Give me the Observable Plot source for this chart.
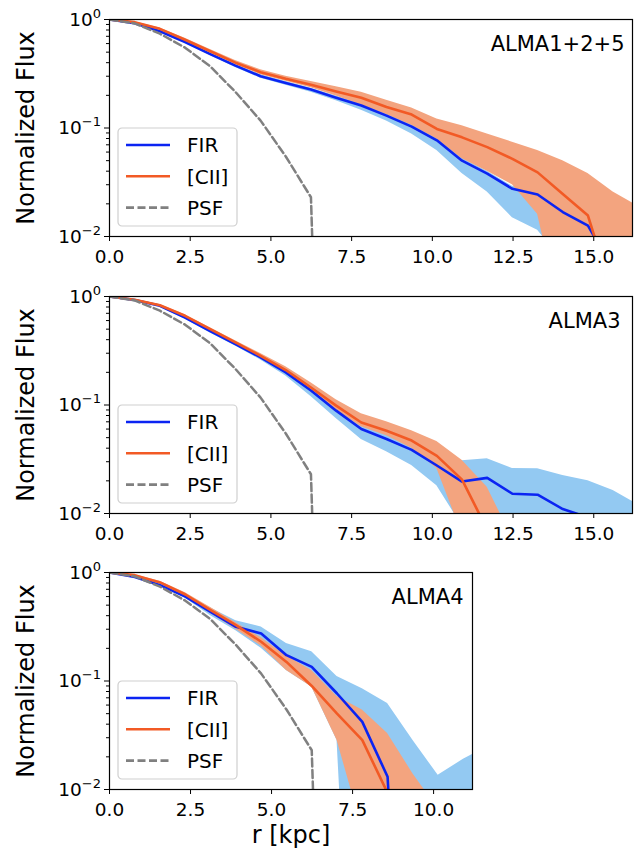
<!DOCTYPE html>
<html><head><meta charset="utf-8">
<script src="https://cdn.jsdelivr.net/npm/d3@7"></script>
<script src="https://cdn.jsdelivr.net/npm/@observablehq/plot@0.6"></script>
<style>
body{margin:0;background:#fff;}
#fig{position:relative;width:639px;height:853px;font-family:"DejaVu Sans",sans-serif;}
#fig svg{position:absolute;left:0;overflow:visible;}
</style></head><body><div id="fig"></div>
<script>
// radial bins (kpc)
const radius = [0, 0.78, 1.56, 2.34, 3.12, 3.9, 4.68, 5.46, 6.24, 7.02, 7.8, 8.58, 9.36, 10.14, 10.92, 11.7, 12.48, 13.26, 14.04, 14.82, 15.6, 16.38];

// PSF profile (same in all panels)
const psf = [1.0, 0.92, 0.74, 0.55, 0.37, 0.215, 0.117, 0.0546, 0.023, 1e-9];

// ALMA1+2+5
const fir1   = [1.0, 0.925, 0.78, 0.62, 0.48, 0.376, 0.30, 0.26, 0.226, 0.19, 0.161, 0.130, 0.103, 0.077, 0.050, 0.038, 0.0275, 0.0244, 0.0168, 0.0126, 0.005, 0.002];
const fir1Lo = [1.0, 0.91, 0.765, 0.605, 0.465, 0.362, 0.288, 0.248, 0.214, 0.178, 0.146, 0.116, 0.088, 0.062, 0.038, 0.0257, 0.0149, 0.0114, 0.006, 0.003, 0.002, 0.001];
const fir1Hi = [1.0, 0.935, 0.79, 0.63, 0.49, 0.385, 0.31, 0.268, 0.233, 0.197, 0.167, 0.135, 0.108, 0.081, 0.053, 0.040, 0.029, 0.026, 0.018, 0.0135, 0.006, 0.003];
const cii1   = [1.0, 0.945, 0.82, 0.65, 0.51, 0.40, 0.327, 0.284, 0.25, 0.217, 0.19, 0.156, 0.133, 0.098, 0.082, 0.0666, 0.052, 0.039, 0.0247, 0.0156, 0.0028, 0.001];
const cii1Lo = [1.0, 0.935, 0.805, 0.635, 0.495, 0.385, 0.31, 0.27, 0.235, 0.197, 0.163, 0.133, 0.106, 0.079, 0.052, 0.040, 0.030, 0.016, 0.0016, 0.001, 0.001, 0.001];
const cii1Hi = [1.0, 0.955, 0.835, 0.67, 0.53, 0.42, 0.345, 0.30, 0.268, 0.24, 0.214, 0.18, 0.153, 0.121, 0.105, 0.088, 0.074, 0.062, 0.050, 0.038, 0.0257, 0.019];

// ALMA3
const fir2   = [1.0, 0.93, 0.82, 0.64, 0.48, 0.364, 0.275, 0.20, 0.136, 0.0887, 0.060, 0.0486, 0.0386, 0.0277, 0.0197, 0.0213, 0.0152, 0.0149, 0.011, 0.0092, 0.007, 0.005];
const fir2Lo = [1.0, 0.92, 0.80, 0.62, 0.46, 0.35, 0.26, 0.185, 0.12, 0.075, 0.048, 0.037, 0.0277, 0.018, 0.0077, 0.001, 0.001, 0.001, 0.001, 0.001, 0.001, 0.001];
const fir2Hi = [1.0, 0.94, 0.835, 0.655, 0.495, 0.378, 0.288, 0.212, 0.148, 0.097, 0.066, 0.053, 0.043, 0.034, 0.0307, 0.032, 0.026, 0.0258, 0.0224, 0.020, 0.0163, 0.012];
const cii2   = [1.0, 0.935, 0.83, 0.664, 0.50, 0.377, 0.284, 0.21, 0.145, 0.0986, 0.069, 0.058, 0.047, 0.034, 0.0205, 0.0071, 0.002, 0.001, 0.001, 0.001, 0.001, 0.001];
const cii2Lo = [1.0, 0.925, 0.815, 0.648, 0.485, 0.364, 0.272, 0.198, 0.135, 0.090, 0.063, 0.052, 0.040, 0.026, 0.0065, 0.001, 0.001, 0.001, 0.001, 0.001, 0.001, 0.001];
const cii2Hi = [1.0, 0.945, 0.845, 0.68, 0.515, 0.392, 0.298, 0.225, 0.16, 0.112, 0.083, 0.07, 0.058, 0.046, 0.031, 0.0175, 0.0059, 0.002, 0.001, 0.001, 0.001, 0.001];

// ALMA4
const fir3   = [1.0, 0.91, 0.764, 0.60, 0.434, 0.316, 0.274, 0.173, 0.135, 0.0767, 0.042, 0.0131, 1e-6, 1e-6, 1e-6, 1e-6];
const fir3Lo = [1.0, 0.90, 0.75, 0.58, 0.40, 0.29, 0.20, 0.125, 0.088, 0.0285, 1e-6, 1e-6, 1e-6, 1e-6, 1e-6, 1e-6];
const fir3Hi = [1.0, 0.93, 0.80, 0.63, 0.47, 0.36, 0.315, 0.222, 0.186, 0.11, 0.085, 0.062, 0.0285, 0.0135, 0.019, 0.025];
const cii3   = [1.0, 0.945, 0.81, 0.627, 0.45, 0.327, 0.23, 0.15, 0.09, 0.05, 0.0285, 0.0093, 0.001, 0.001, 0.001, 0.001];
const cii3Lo = [1.0, 0.935, 0.79, 0.60, 0.42, 0.30, 0.21, 0.125, 0.088, 0.0285, 0.0043, 0.001, 0.001, 0.001, 0.001, 0.001];
const cii3Hi = [1.0, 0.955, 0.83, 0.65, 0.475, 0.345, 0.25, 0.17, 0.125, 0.072, 0.054, 0.0328, 0.014, 0.0066, 0.001, 0.001];

// axes
const xTicksWide = [0, 2.5, 5, 7.5, 10, 12.5, 15];
const xTicksNarrow = [0, 2.5, 5, 7.5, 10];
const yTicks = [1, 0.1, 0.01];
const yTickBase = ["10", "10", "10"];
const yTickExp = ["0", "\u22121", "\u22122"];
const yMinor = [0.02,0.03,0.04,0.05,0.06,0.07,0.08,0.09,0.2,0.3,0.4,0.5,0.6,0.7,0.8,0.9];
const seriesNames = ["FIR", "[CII]", "PSF"];
const panelNames = ["ALMA1+2+5", "ALMA3", "ALMA4"];

const blueLine = "#0b24f2", orangeLine = "#f25a25", psfColor = "#808080";
const blueBand = "#93c9f2", orangeBand = "#f3a47f";

const panels = [
  {name: panelNames[0], fir: fir1, firLo: fir1Lo, firHi: fir1Hi, cii: cii1, ciiLo: cii1Lo, ciiHi: cii1Hi, xMax: 16.2, xTicks: xTicksWide, top: 0, width: 639, labelDx: -8, xLabel: false},
  {name: panelNames[1], fir: fir2, firLo: fir2Lo, firHi: fir2Hi, cii: cii2, ciiLo: cii2Lo, ciiHi: cii2Hi, xMax: 16.2, xTicks: xTicksWide, top: 277, width: 639, labelDx: -12, xLabel: false},
  {name: panelNames[2], fir: fir3, firLo: fir3Lo, firHi: fir3Hi, cii: cii3, ciiLo: cii3Lo, ciiHi: cii3Hi, xMax: 11.2, xTicks: xTicksNarrow, top: 553, width: 479, labelDx: -9, xLabel: true}
];

const fig = document.getElementById("fig");
const ML = 109, MT = 19, PH = 217;
const FONT = "'DejaVu Sans', sans-serif";

panels.forEach(p => {
  const rows = p.fir.map((v, i) => ({r: radius[i], fir: v, firLo: p.firLo[i], firHi: p.firHi[i], cii: p.cii[i], ciiLo: p.ciiLo[i], ciiHi: p.ciiHi[i]}));
  const psfRows = psf.map((v, i) => ({r: radius[i], v}));
  const mb = p.xLabel ? 64 : 36;
  const marks = [
    Plot.areaY(rows, {x: "r", y1: "firLo", y2: "firHi", fill: blueBand, clip: true}),
    Plot.areaY(rows, {x: "r", y1: "ciiLo", y2: "ciiHi", fill: orangeBand, clip: true}),
    Plot.lineY(rows, {x: "r", y: "fir", stroke: blueLine, strokeWidth: 2.6, clip: true}),
    Plot.lineY(rows, {x: "r", y: "cii", stroke: orangeLine, strokeWidth: 2.6, clip: true}),
    Plot.lineY(psfRows, {x: "r", y: "v", stroke: psfColor, strokeWidth: 2.5, strokeDasharray: "8,3.5", clip: true}),
    Plot.axisX({ticks: p.xTicks, tickFormat: d3.format(".1f"), tickSize: 5, tickPadding: 8, label: null, fontSize: 18.5}),
    Plot.axisY({ticks: yTicks, tickFormat: () => "", tickSize: 5, label: null}),
    Plot.axisY(yMinor, {tickSize: 3, tickFormat: () => "", label: null}),
    Plot.frame({stroke: "black", strokeWidth: 1.2}),
    Plot.text([p.name], {frameAnchor: "top-right", textAnchor: "end", lineAnchor: "bottom", dx: p.labelDx, dy: 31, fontSize: 21, fill: "black"}),
    Plot.text(["Normalized Flux"], {frameAnchor: "left", rotate: -90, textAnchor: "middle", lineAnchor: "bottom", dx: -76, fontSize: 24, fill: "black"})
  ];
  if (p.xLabel) marks.push(Plot.text(["r [kpc]"], {frameAnchor: "bottom", textAnchor: "middle", lineAnchor: "bottom", dy: 53, fontSize: 24, fill: "black"}));
  const svg = Plot.plot({
    width: p.width, height: MT + PH + mb,
    marginLeft: ML, marginRight: 7, marginTop: MT, marginBottom: mb,
    style: {fontFamily: FONT, fontSize: "18.5px", color: "black", background: "transparent", overflow: "visible"},
    x: {domain: [0, p.xMax]},
    y: {type: "log", domain: [0.01, 1]},
    marks
  });
  svg.style.top = p.top + "px";
  const root = d3.select(svg);
  // y tick labels with superscript exponents, placed with Plot's own y scale
  const ys = svg.scale("y");
  yTicks.forEach((v, i) => {
    const t = root.append("text").attr("x", ML - 8).attr("y", ys.apply(v)).attr("dy", "0.36em")
      .attr("text-anchor", "end").attr("font-size", 18.5).attr("font-family", FONT).attr("fill", "black");
    t.append("tspan").text(yTickBase[i]);
    t.append("tspan").attr("font-size", 13).attr("dy", "-0.62em").text(yTickExp[i]);
  });
  // legend box inside the frame
  const g = root.append("g").attr("transform", `translate(${ML + 9},${MT + 109})`);
  g.append("rect").attr("width", 119).attr("height", 98).attr("rx", 4)
    .attr("fill", "white").attr("fill-opacity", 0.85).attr("stroke", "#cfcfcf").attr("stroke-width", 1.2);
  const items = [
    {label: seriesNames[0], color: blueLine, dash: null},
    {label: seriesNames[1], color: orangeLine, dash: null},
    {label: seriesNames[2], color: psfColor, dash: "8,3.5"}
  ];
  items.forEach((it, i) => {
    const yy = 17 + i * 31.3;
    g.append("line").attr("x1", 8).attr("x2", 52).attr("y1", yy).attr("y2", yy)
      .attr("stroke", it.color).attr("stroke-width", 2.6).attr("stroke-dasharray", it.dash);
    g.append("text").attr("x", 69).attr("y", yy).attr("dy", "0.36em").attr("text-anchor", "start")
      .attr("font-size", 20).attr("font-family", FONT).attr("fill", "black").text(it.label);
  });
  fig.appendChild(svg);
});
</script>
</body></html>
